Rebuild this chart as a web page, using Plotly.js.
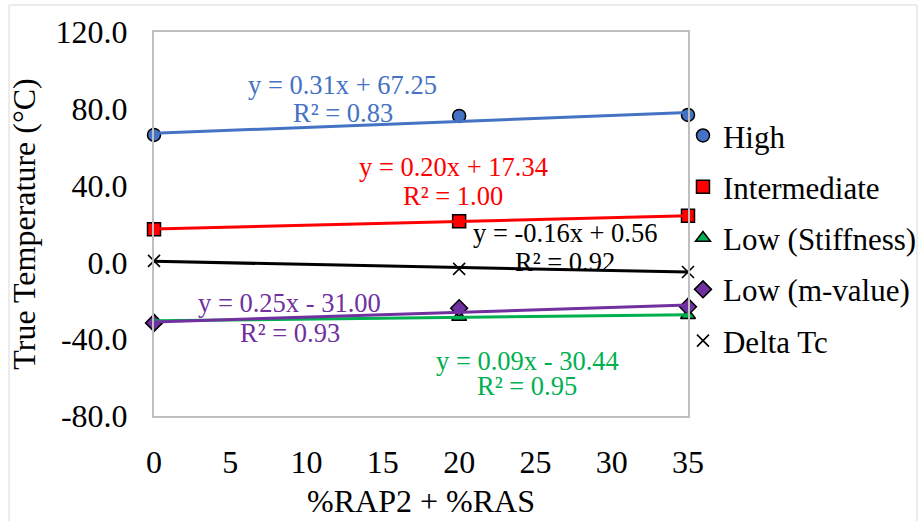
<!DOCTYPE html>
<html>
<head>
<meta charset="utf-8">
<script src="https://cdn.plot.ly/plotly-3.0.1.min.js"></script>
<style>
html,body{margin:0;padding:0;background:#fff;}
#chart{width:920px;height:521px;}
</style>
</head>
<body>
<div id="chart"></div>
<script>
// ---- data ----
const xValues = [0, 20, 35];
const seriesNames = ["High", "Intermediate", "Low (Stiffness)", "Low (m-value)", "Delta Tc"];
const highVals = [66.4, 76.3, 76.8];
const intermediateVals = [17.3, 21.4, 24.3];
const lowStiffVals = [-30.5, -28.5, -27.5];
const lowMVals = [-31.5, -23.9, -23.1];
const deltaTcVals = [0.8, -3.4, -5.0];
// trendline equations as printed on the chart
const slopes = [0.31, 0.20, 0.09, 0.25, -0.16];
const intercepts = [67.25, 17.34, -30.44, -31.00, 0.56];
const eqTexts = ["y = 0.31x + 67.25", "y = 0.20x + 17.34", "y = 0.09x - 30.44", "y = 0.25x - 31.00", "y = -0.16x + 0.56"];
const r2Texts = ["R² = 0.83", "R² = 1.00", "R² = 0.95", "R² = 0.93", "R² = 0.92"];
const yTickVals = [-80, -40, 0, 40, 80, 120];
const yTickLabels = ["-80.0", "-40.0", "0.0", "40.0", "80.0", "120.0"];
const xTickVals = [0, 5, 10, 15, 20, 25, 30, 35];
const xTickLabels = ["0", "5", "10", "15", "20", "25", "30", "35"];
const xTitle = "%RAP2 + %RAS";
const yTitle = "True Temperature (°C)";

// ---- styling ----
const FONT = "Liberation Serif";
const colors = ["#4472C4", "#FF0000", "#00B050", "#7030A0", "#000000"];
const symbols = ["circle", "square", "triangle-up", "diamond", "x-thin-open"];
const allVals = [highVals, intermediateVals, lowStiffVals, lowMVals, deltaTcVals];

const traces = [];
allVals.forEach((vals, i) => {
  const isX = symbols[i] === "x-thin-open";
  traces.push({
    x: xValues, y: vals, name: seriesNames[i], type: "scatter", mode: "markers",
    legendgroup: "g" + i, cliponaxis: false,
    marker: isX
      ? {symbol: symbols[i], size: 12, color: "#000", line: {color: "#000", width: 1.6}}
      : {symbol: symbols[i], size: 13, color: colors[i], line: {color: "#000", width: 1.5}},
    hoverinfo: "x+y"
  });
});
// trendlines (drawn above markers, as in the reference)
const xLo = xValues[0], xHi = xValues[xValues.length - 1];
slopes.forEach((m, i) => {
  traces.push({
    x: [xLo, xHi], y: [m * xLo + intercepts[i], m * xHi + intercepts[i]],
    type: "scatter", mode: "lines", showlegend: false, hoverinfo: "skip", cliponaxis: false,
    line: {color: colors[i], width: 3}
  });
});

// annotation anchor positions (data coords) for eq / R² labels
const annPos = [
  [12.35, 92.4, 12.4, 77.8],
  [19.6, 49.7, 19.6, 34.6],
  [24.45, -51.4, 24.45, -64.4],
  [8.9, -21.2, 8.9, -36.8],
  [26.94, 15.3, 26.94, 0.2]
];
const annotations = [];
annPos.forEach((p, i) => {
  annotations.push({x: p[0], y: p[1], xref: "x", yref: "y", text: eqTexts[i], showarrow: false,
    font: {family: FONT, size: 26.5, color: colors[i]}, xanchor: "center", yanchor: "middle"});
  annotations.push({x: p[2], y: p[3], xref: "x", yref: "y", text: r2Texts[i], showarrow: false,
    font: {family: FONT, size: 26.5, color: colors[i]}, xanchor: "center", yanchor: "middle"});
});

const layout = {
  width: 920, height: 521,
  margin: {l: 154, r: 232, t: 32, b: 105, autoexpand: false},
  paper_bgcolor: "#fff", plot_bgcolor: "#fff",
  font: {family: FONT, color: "#000", size: 30},
  showlegend: true,
  legend: {x: 0.9906, y: 0.80, xanchor: "left", yanchor: "top", font: {family: FONT, size: 31, color: "#000"},
    traceorder: "grouped", tracegroupgap: 8, bgcolor: "rgba(0,0,0,0)"},
  xaxis: {range: [0, 35], tickmode: "array", tickvals: xTickVals, ticktext: xTickLabels, showgrid: false, zeroline: false,
    showline: true, mirror: true, linecolor: "#BFBFBF", linewidth: 2, ticks: "",
    ticklabelstandoff: 17, tickfont: {family: FONT, size: 32, color: "#000"},
    title: {text: xTitle, font: {family: FONT, size: 32, color: "#000"}, standoff: 10}},
  yaxis: {range: [-80, 120], tickmode: "array", tickvals: yTickVals, ticktext: yTickLabels, showgrid: false, zeroline: false,
    showline: true, mirror: true, linecolor: "#BFBFBF", linewidth: 2, ticks: "",
    ticklabelstandoff: 18, tickfont: {family: FONT, size: 32, color: "#000"},
    title: {text: yTitle, font: {family: FONT, size: 32, color: "#000"}, standoff: 10}},
  annotations: annotations,
  shapes: [{type: "rect", xref: "paper", yref: "paper", x0: -0.2715, x1: 1.4288, y0: -0.3, y1: 1.0703,
    line: {color: "#D9D9D9", width: 1}, fillcolor: "rgba(0,0,0,0)", layer: "below"}]
};

Plotly.newPlot("chart", traces, layout, {displayModeBar: false, staticPlot: true});
</script>
</body>
</html>
